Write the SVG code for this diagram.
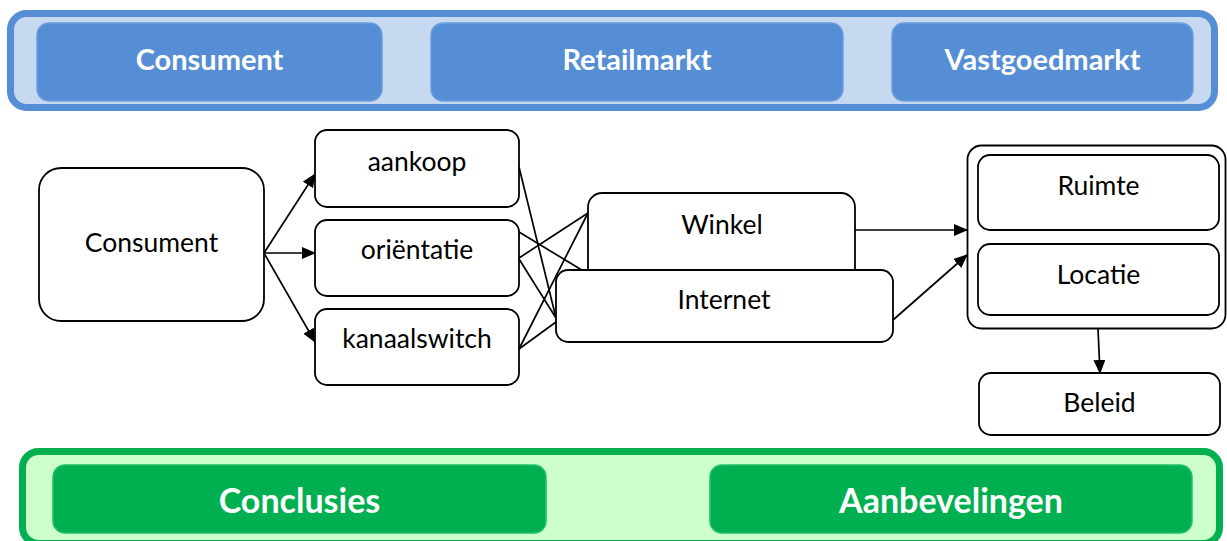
<svg xmlns="http://www.w3.org/2000/svg" width="1227" height="541" viewBox="0 0 1227 541">
  <style>
    .band-blue { fill: #C6D9F1; stroke: #558ED5; stroke-width: 7; }
    .tile-blue { fill: #558ED5; stroke: #6E9EDB; stroke-width: 1.5; }
    .band-green { fill: #CCFFCC; stroke: #00B050; stroke-width: 7; }
    .tile-green { fill: #00B050; stroke: #1FC06A; stroke-width: 1.5; }
    .node { fill: #FFFFFF; stroke: #000000; stroke-width: 1.8; }
    .head { font-family: Lato, "Liberation Sans", sans-serif; font-weight: bold; fill: #FFFFFF; text-anchor: middle; }
    .lbl { font-family: Lato, "Liberation Sans", sans-serif; font-size: 26.5px; fill: #000000; text-anchor: middle; }
    .conn line { stroke: #000000; stroke-width: 1.7; fill: none; }
  </style>
  <defs>
    <marker id="arrow" markerUnits="userSpaceOnUse" markerWidth="14" markerHeight="12" refX="13" refY="6" orient="auto-start-reverse">
      <path d="M0,0 L14,6 L0,12 z" fill="#000000"/>
    </marker>
  </defs>

  <!-- top band: three themes -->
  <g id="top-band">
    <rect class="band-blue" x="10.5" y="13.5" width="1204" height="94" rx="16"/>
  </g>
  <g id="thema-consument">
    <rect class="tile-blue" x="37" y="23" width="345" height="78" rx="12"/>
    <text class="head" x="209.5" y="70" font-size="29">Consument</text>
  </g>
  <g id="thema-retailmarkt">
    <rect class="tile-blue" x="431" y="23" width="412" height="78" rx="12"/>
    <text class="head" x="637" y="70" font-size="29">Retailmarkt</text>
  </g>
  <g id="thema-vastgoedmarkt">
    <rect class="tile-blue" x="892" y="23" width="301" height="78" rx="12"/>
    <text class="head" x="1042.5" y="70" font-size="29">Vastgoedmarkt</text>
  </g>

  <!-- connectors -->
  <g id="connectors" class="conn">
    <line x1="264" y1="253" x2="315" y2="174" marker-end="url(#arrow)"/>
    <line x1="264" y1="253" x2="315" y2="253" marker-end="url(#arrow)"/>
    <line x1="264" y1="253" x2="315" y2="342" marker-end="url(#arrow)"/>
    <line x1="519" y1="167" x2="556" y2="318"/>
    <line x1="519" y1="232" x2="590" y2="275"/>
    <line x1="519" y1="258" x2="588" y2="213"/>
    <line x1="519" y1="259" x2="556" y2="318"/>
    <line x1="519" y1="349" x2="588" y2="213"/>
    <line x1="519" y1="349" x2="556" y2="322"/>
    <line x1="855" y1="230" x2="967" y2="230" marker-end="url(#arrow)"/>
    <line x1="893" y1="320" x2="967" y2="255" marker-end="url(#arrow)"/>
    <line x1="1098" y1="329" x2="1100" y2="373" marker-end="url(#arrow)"/>
    <line x1="546" y1="504" x2="710" y2="504" marker-start="url(#arrow)" marker-end="url(#arrow)"/>
  </g>

  <!-- middle flow -->
  <g id="consument">
    <rect class="node" x="39" y="168" width="225" height="153" rx="22"/>
    <text class="lbl" x="151.5" y="252">Consument</text>
  </g>
  <g id="aankoop">
    <rect class="node" x="315" y="130" width="204" height="77" rx="12"/>
    <text class="lbl" x="417" y="171">aankoop</text>
  </g>
  <g id="orientatie">
    <rect class="node" x="315" y="220" width="204" height="76" rx="12"/>
    <text class="lbl" x="417" y="259">oriëntatie</text>
  </g>
  <g id="kanaalswitch">
    <rect class="node" x="315" y="309" width="204" height="76" rx="12"/>
    <text class="lbl" x="417" y="348">kanaalswitch</text>
  </g>
  <g id="winkel">
    <rect class="node" x="588" y="193" width="267" height="110" rx="14"/>
    <text class="lbl" x="722" y="234">Winkel</text>
  </g>
  <g id="internet">
    <rect class="node" x="556" y="270" width="337" height="72" rx="12"/>
    <text class="lbl" x="724" y="309">Internet</text>
  </g>
  <g id="vastgoed">
    <rect class="node" x="967.5" y="145.5" width="258" height="183" rx="14"/>
  </g>
  <g id="ruimte">
    <rect class="node" x="978" y="155" width="241" height="75" rx="12"/>
    <text class="lbl" x="1098.5" y="195">Ruimte</text>
  </g>
  <g id="locatie">
    <rect class="node" x="978" y="244" width="241" height="71" rx="12"/>
    <text class="lbl" x="1098.5" y="284">Locatie</text>
  </g>
  <g id="beleid">
    <rect class="node" x="979" y="373" width="241" height="62" rx="12"/>
    <text class="lbl" x="1099.5" y="412">Beleid</text>
  </g>

  <!-- bottom band: outcomes -->
  <g id="bottom-band">
    <rect class="band-green" x="22.5" y="451.5" width="1197" height="92" rx="16"/>
  </g>
  <g id="conclusies">
    <rect class="tile-green" x="53" y="465" width="493" height="68" rx="12"/>
    <text class="head" x="299.5" y="513" font-size="34">Conclusies</text>
  </g>
  <g id="aanbevelingen">
    <rect class="tile-green" x="710" y="465" width="482" height="68" rx="12"/>
    <text class="head" x="951" y="513" font-size="34">Aanbevelingen</text>
  </g>
</svg>
